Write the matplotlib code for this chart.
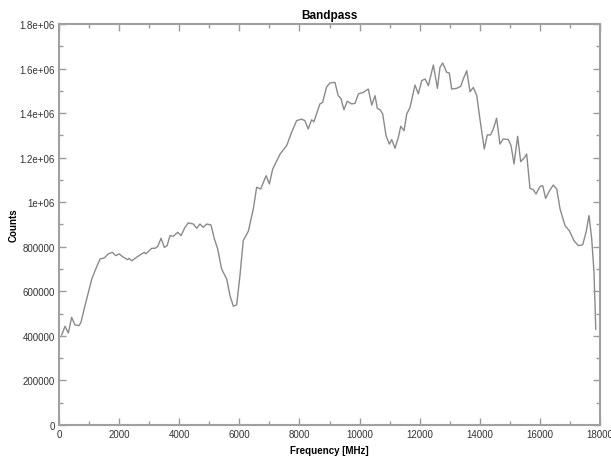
import matplotlib.pyplot as plt
from matplotlib.ticker import MultipleLocator, FormatStrFormatter

plt.rcParams['font.family'] = ['Liberation Sans', 'DejaVu Sans']

# bandpass spectrum: frequency [MHz] vs counts
freq = [90, 200, 310, 420, 530, 665, 730, 865, 1090, 1200, 1365, 1510, 1640,
        1775, 1885, 2000, 2140, 2285, 2330, 2420, 2585, 2750, 2840, 2885, 3085,
        3195, 3285, 3395, 3505, 3595, 3695, 3800, 3950, 4060, 4190, 4300, 4470,
        4580, 4690, 4800, 4915, 5055, 5170, 5280, 5410, 5580, 5690, 5800, 5910,
        6020, 6130, 6300, 6465, 6575, 6710, 6890, 7000, 7110, 7355, 7575, 7740,
        7905, 8070, 8180, 8290, 8405, 8480, 8680, 8770, 8900, 9010, 9180, 9290,
        9380, 9480, 9590, 9740, 9850, 9960, 10125, 10290, 10405, 10515, 10590,
        10680, 10770, 10880, 10990, 11070, 11180, 11290, 11370, 11480, 11570,
        11680, 11845, 11955, 12070, 12180, 12290, 12455, 12590, 12675, 12765,
        12900, 12985, 13065, 13230, 13365, 13450, 13565, 13675, 13785, 13900,
        14005, 14150, 14250, 14360, 14450, 14560, 14670, 14780, 14950, 15040,
        15140, 15260, 15360, 15470, 15560, 15670, 15780, 15870, 16005, 16095,
        16190, 16300, 16445, 16560, 16670, 16835, 16980, 17135, 17280, 17425,
        17535, 17635, 17725, 17800, 17860]
counts = [404000, 443000, 413000, 483000, 449000, 446000, 461000, 536000,
          655000, 693000, 745000, 750000, 768000, 775000, 760000, 768000,
          753000, 742000, 748000, 737000, 753000, 768000, 775000, 768000,
          793000, 793000, 802000, 838000, 797000, 805000, 850000, 847000,
          865000, 850000, 887000, 907000, 902000, 883000, 902000, 887000,
          902000, 898000, 835000, 790000, 700000, 655000, 580000, 533000,
          539000, 670000, 828000, 870000, 970000, 1067000, 1059000, 1119000,
          1082000, 1149000, 1216000, 1254000, 1314000, 1366000, 1373000,
          1366000, 1329000, 1370000, 1361000, 1441000, 1448000, 1516000,
          1535000, 1538000, 1478000, 1466000, 1415000, 1453000, 1441000,
          1444000, 1486000, 1493000, 1508000, 1436000, 1478000, 1421000,
          1415000, 1396000, 1299000, 1261000, 1281000, 1242000, 1291000,
          1341000, 1321000, 1396000, 1426000, 1526000, 1486000, 1546000,
          1553000, 1523000, 1616000, 1511000, 1605000, 1625000, 1583000,
          1580000, 1508000, 1511000, 1520000, 1553000, 1590000, 1496000,
          1515000, 1478000, 1373000, 1239000, 1302000, 1302000, 1329000,
          1377000, 1261000, 1284000, 1281000, 1254000, 1172000, 1296000,
          1182000, 1197000, 1216000, 1062000, 1056000, 1037000, 1071000,
          1074000, 1017000, 1047000, 1077000, 1059000, 970000, 895000, 872000,
          827000, 805000, 809000, 865000, 940000, 835000, 685000, 430000]

fig = plt.figure(figsize=(6.11, 4.6), dpi=100)
ax = fig.add_axes([0.0966, 0.074, 0.8854, 0.8717])

ax.plot(freq, counts, color='#8a8a8a', linewidth=1.0)

ax.set_xlim(0, 18000)
ax.set_ylim(0, 1.8e6)
ax.xaxis.set_major_locator(MultipleLocator(2000))
ax.xaxis.set_minor_locator(MultipleLocator(1000))
ax.yaxis.set_major_locator(MultipleLocator(200000))
ax.yaxis.set_minor_locator(MultipleLocator(100000))
ax.yaxis.set_major_formatter(FormatStrFormatter('%g'))

ax.tick_params(which='both', direction='in', top=True, right=True,
               color='#9a9a9a', labelsize=7, labelcolor='#333333', pad=3)
ax.tick_params(which='major', length=5, width=1)
ax.tick_params(which='minor', length=3, width=1)
for s in ax.spines.values():
    s.set_color('#a0a0a0')
    s.set_linewidth(1.5)

ax.set_title('Bandpass', fontsize=8.5, fontweight='bold', pad=4)
ax.set_xlabel('Frequency [MHz]', fontsize=7, fontweight='bold', labelpad=4)
ax.set_ylabel('Counts', fontsize=7, fontweight='bold')
ax.yaxis.set_label_coords(-0.075, 0.5)

fig.savefig('out.png', dpi=100)
